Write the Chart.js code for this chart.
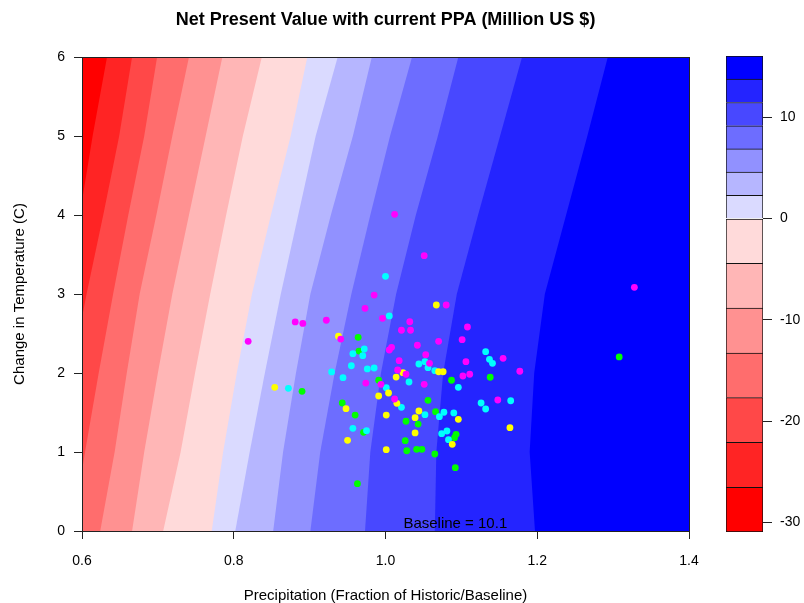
<!DOCTYPE html>
<html>
<head>
<meta charset="utf-8">
<title>Net Present Value with current PPA</title>
<script src="https://cdn.jsdelivr.net/npm/chart.js@4.4.1/dist/chart.umd.min.js"></script>
<style>
  html, body { margin: 0; padding: 0; background: #fff; }
  #wrap { position: relative; width: 804px; height: 603px; }
  #main { position: absolute; left: 0; top: 0; }
  #key { position: absolute; left: 700px; top: 0; }
</style>
</head>
<body>
<div id="wrap">
  <canvas id="main" width="804" height="603"></canvas>
  <canvas id="key" width="104" height="603"></canvas>
</div>
<script>
// ---- contour levels of NPV (Million US $) and their fill colours ----
const levels = [-30.93, -26.51, -22.09, -17.67, -13.26, -8.84, -4.42, 0,
                2.29, 4.59, 6.88, 9.17, 11.46, 13.76, 16.05];
const bandColors = ['#FF0000', '#FF2424', '#FF4848', '#FF6D6D', '#FF9191', '#FFB6B6', '#FFDADA',
                    '#DADAFF', '#B6B6FF', '#9191FF', '#6D6DFF', '#4848FF', '#2424FF', '#0000FF'];

// ---- contour lines: precipitation where each level is crossed, at each temperature ----
const tempGrid = [0, 1, 2, 3, 4, 5, 6];
const contour1  = [0.524, 0.542, 0.560, 0.579, 0.597, 0.614, 0.633];
const contour2  = [0.547, 0.566, 0.586, 0.606, 0.628, 0.649, 0.666];
const contour3  = [0.587, 0.604, 0.622, 0.641, 0.661, 0.682, 0.699];
const contour4  = [0.624, 0.643, 0.659, 0.676, 0.698, 0.719, 0.741];
const contour5  = [0.666, 0.682, 0.700, 0.719, 0.741, 0.763, 0.785];
const contour6  = [0.707, 0.730, 0.749, 0.769, 0.790, 0.812, 0.837];
const contour7  = [0.771, 0.786, 0.804, 0.824, 0.849, 0.875, 0.897];
const contour8  = [0.802, 0.821, 0.841, 0.862, 0.885, 0.908, 0.937];
const contour9  = [0.852, 0.865, 0.882, 0.901, 0.928, 0.957, 0.982];
const contour10 = [0.901, 0.914, 0.933, 0.955, 0.980, 1.006, 1.035];
const contour11 = [0.973, 0.980, 0.994, 1.014, 1.040, 1.069, 1.096];
const contour12 = [1.065, 1.067, 1.076, 1.094, 1.122, 1.151, 1.180];
const contour13 = [1.197, 1.190, 1.196, 1.210, 1.238, 1.266, 1.293];
const contours = [contour1, contour2, contour3, contour4, contour5, contour6, contour7,
                  contour8, contour9, contour10, contour11, contour12, contour13];

// ---- climate projections (precipitation fraction, temperature change) ----
const magentaPrecip = [0.819,0.881,0.891,0.922,0.941,0.973,0.985,0.996,1.012,1.032,1.021,1.033,1.042,1.008,1.005,1.018,1.016,1.027,0.974,0.994,1.012,1.051,1.080,1.108,1.070,1.101,1.053,1.058,1.106,1.155,1.177,1.102,1.111,1.051,1.148,1.328];
const magentaTemp   = [2.401,2.646,2.627,2.668,2.430,2.819,2.987,2.692,4.009,2.649,2.541,2.541,2.351,2.325,2.291,2.156,2.038,1.984,1.873,1.857,1.671,3.485,2.861,2.582,2.401,2.422,2.232,2.123,2.143,2.186,2.022,1.962,1.984,1.857,1.658,3.085];
const cyanPrecip = [0.872,1.000,1.005,0.972,0.957,0.970,0.955,0.929,0.944,0.976,0.985,1.031,1.044,1.001,1.021,0.957,0.975,1.052,1.056,1.065,1.132,1.137,1.141,1.096,1.126,1.132,1.165,1.052,1.077,1.071,1.090,1.074,1.081,1.083];
const cyanTemp   = [1.806,3.224,2.722,2.304,2.244,2.219,2.092,2.013,1.941,2.051,2.063,1.886,2.114,1.814,1.566,1.300,1.270,2.143,2.067,2.029,2.270,2.173,2.123,1.819,1.620,1.544,1.649,1.472,1.503,1.447,1.494,1.232,1.266,1.156];
const greenPrecip = [0.890,0.964,0.965,0.991,0.943,0.960,0.971,1.027,1.043,1.026,1.028,1.041,1.048,0.963,1.087,1.138,1.056,1.066,1.093,1.091,1.065,1.092,1.308];
const greenTemp   = [1.768,2.452,2.278,1.908,1.620,1.468,1.249,1.389,1.354,1.143,1.016,1.034,1.034,0.599,1.908,1.946,1.654,1.510,1.224,1.181,0.975,0.801,2.203];
const yellowPrecip = [0.854,0.938,1.014,1.023,1.004,0.991,1.015,0.948,1.001,1.039,1.044,1.039,0.950,1.001,1.067,1.070,1.076,1.096,1.088,1.164];
const yellowTemp   = [1.819,2.465,1.949,2.004,1.747,1.709,1.616,1.548,1.468,1.434,1.519,1.241,1.148,1.029,2.861,2.016,2.016,1.414,1.097,1.308];

// ---- axis ticks and labels ----
const precipTicks = [0.6, 0.8, 1.0, 1.2, 1.4];
const tempTicks = [0, 1, 2, 3, 4, 5, 6];
const keyTicks = [-30, -20, -10, 0, 10];
const baselineLabel = 'Baseline = 10.1';
const baselinePos = { x: 1.092, y: 0.09 };

const FONT = '"Liberation Sans", Arial, Helvetica, sans-serif';
Chart.defaults.font.family = FONT;
Chart.defaults.color = '#000';

// Each band is the region right of its lower contour; drawn left to right,
// every band paints over the ones to its right.
const bandSets = bandColors.map((col, k) => {
  const pts = [{ x: 1.6, y: 0 }];
  if (k === 0) {
    pts.push({ x: 0.4, y: 0 }, { x: 0.4, y: 6 });
  } else {
    contours[k - 1].forEach((p, i) => pts.push({ x: p, y: tempGrid[i] }));
  }
  pts.push({ x: 1.6, y: 6 });
  return {
    data: pts,
    showLine: true,
    fill: 'shape',
    backgroundColor: col,
    borderWidth: 0,
    pointRadius: 0,
    pointHoverRadius: 0,
    tension: 0,
    clip: 0,
    order: 100 - k
  };
});

function pointSet(px, py, col, order) {
  return {
    data: px.map((x, i) => ({ x, y: py[i] })),
    showLine: false,
    pointRadius: 3.4,
    pointBorderWidth: 0,
    pointBackgroundColor: col,
    backgroundColor: col,
    order
  };
}

const boxPlugin = {
  id: 'plotBox',
  afterDatasetsDraw(chart) {
    const { ctx, chartArea: a, scales } = chart;
    ctx.save();
    ctx.strokeStyle = '#222';
    ctx.lineWidth = 1;
    ctx.strokeRect(Math.round(a.left) + 0.5, Math.round(a.top) + 0.5,
                   Math.round(a.right - a.left), Math.round(a.bottom - a.top));
    ctx.font = '15px ' + FONT;
    ctx.fillStyle = '#000';
    ctx.textAlign = 'center';
    ctx.textBaseline = 'middle';
    ctx.fillText(baselineLabel, scales.x.getPixelForValue(baselinePos.x),
                 scales.y.getPixelForValue(baselinePos.y));
    ctx.restore();
  }
};

new Chart(document.getElementById('main'), {
  type: 'scatter',
  data: {
    datasets: [
      ...bandSets,
      pointSet(greenPrecip, greenTemp, '#00FF00', 4),
      pointSet(cyanPrecip, cyanTemp, '#00FFFF', 3),
      pointSet(yellowPrecip, yellowTemp, '#FFFF00', 2),
      pointSet(magentaPrecip, magentaTemp, '#FF00FF', 1)
    ]
  },
  options: {
    responsive: false,
    animation: false,
    events: [],
    layout: { padding: { left: 0, right: 115, top: 0, bottom: 0 } },
    plugins: {
      legend: { display: false },
      tooltip: { enabled: false },
      title: {
        display: true,
        fullSize: false,
        text: 'Net Present Value with current PPA (Million US $)',
        font: { size: 18, weight: 'bold', lineHeight: 1.2 },
        color: '#000',
        padding: { top: 9, bottom: 26.4 }
      }
    },
    scales: {
      x: {
        type: 'linear',
        min: 0.6, max: 1.4,
        afterFit(s) { s.height = 72; },
        afterBuildTicks(s) { s.ticks = precipTicks.map(v => ({ value: v })); },
        grid: { drawOnChartArea: false, drawTicks: true, tickLength: 8, color: '#222' },
        border: { display: false },
        ticks: { font: { size: 14 }, padding: 14, callback: v => v.toFixed(1), maxRotation: 0 },
        title: {
          display: true,
          text: 'Precipitation (Fraction of Historic/Baseline)',
          font: { size: 15, lineHeight: 1 },
          padding: { top: 0, bottom: 0 }
        }
      },
      y: {
        type: 'linear',
        min: 0, max: 6,
        afterFit(s) { s.width = 82; },
        afterBuildTicks(s) { s.ticks = tempTicks.map(v => ({ value: v })); },
        grid: { drawOnChartArea: false, drawTicks: true, tickLength: 8, color: '#222' },
        border: { display: false },
        ticks: { font: { size: 14 }, padding: 9 },
        title: {
          display: true,
          text: 'Change in Temperature (C)',
          font: { size: 15, lineHeight: 1.2 },
          padding: { top: 11, bottom: 0 }
        }
      }
    }
  },
  plugins: [boxPlugin]
});

// ---- colour key ----
new Chart(document.getElementById('key'), {
  type: 'bar',
  data: {
    labels: [''],
    datasets: bandColors.map((col, k) => ({
      data: [[levels[k], levels[k + 1]]],
      backgroundColor: col,
      borderColor: '#111',
      borderWidth: { top: 1, left: 1, right: 1, bottom: k === 0 ? 1 : 0 },
      borderSkipped: false,
      barPercentage: 1,
      categoryPercentage: 1,
      grouped: false
    }))
  },
  options: {
    responsive: false,
    animation: false,
    events: [],
    layout: { padding: { left: 26, right: 0, top: 56, bottom: 71 } },
    plugins: { legend: { display: false }, tooltip: { enabled: false } },
    scales: {
      x: { display: false },
      y: {
        position: 'right',
        min: levels[0], max: levels[levels.length - 1],
        afterFit(s) { s.width = 41; },
        afterBuildTicks(s) { s.ticks = keyTicks.map(v => ({ value: v })); },
        grid: { drawOnChartArea: false, drawTicks: true, tickLength: 9, color: '#222' },
        border: { display: false },
        ticks: { font: { size: 14 }, padding: 8 }
      }
    }
  }
});
</script>
</body>
</html>
